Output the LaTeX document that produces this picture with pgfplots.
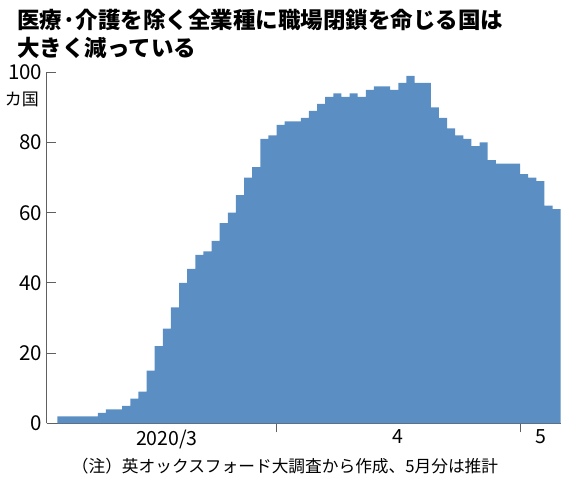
\documentclass[border=0pt]{standalone}
\usepackage{fontspec}
\setmainfont{Noto Sans CJK JP}
\usepackage{pgfplots}
\pgfplotsset{compat=1.18}
\definecolor{barblue}{HTML}{5B8FC4}
\definecolor{axgray}{HTML}{606060}
\begin{document}
\begin{tikzpicture}[x=1pt,y=1pt]
\useasboundingbox (0,0) rectangle (583,480);
\node[anchor=north west, inner sep=0, align=left, font=\fontsize{22.5}{27.5}\selectfont\bfseries] at (17,471) {医療·介護を除く全業種に職場閉鎖を命じる国は\\大きく減っている};
\begin{axis}[
  at={(46.7pt,56.7pt)}, anchor=south west,
  scale only axis, width=514pt, height=351pt,
  xmin=-1.3, xmax=62, ymin=0, ymax=100,
  axis x line*=bottom, axis y line*=left,
  axis line style={axgray, line width=0.9pt},
  tick align=inside,
  major tick length=9pt,
  tick style={axgray, line width=0.9pt},
  ytick={0,20,40,60,80,100},
  xtick={27,57}, xticklabels={},
  x tick style={yshift=-9pt},
  extra x ticks={13.5,42,59.5},
  extra x tick labels={2020/3,4,5},
  extra x tick style={major tick length=0pt},
  /pgf/number format/assume math mode=true,
  yticklabel style={font=\fontsize{20.5}{20.5}\selectfont, xshift=-1pt},
  xticklabel style={font=\fontsize{19.5}{19.5}\selectfont, yshift=-3pt},
]
\addplot[const plot, fill=barblue, draw=none] coordinates {
(0,2)(1,2)(2,2)(3,2)(4,2)(5,3)(6,4)(7,4)(8,5)(9,7)
(10,9)(11,15)(12,22)(13,27)(14,33)(15,40)(16,44)(17,48)(18,49)(19,52)
(20,57)(21,60)(22,65)(23,70)(24,73)(25,81)(26,82)(27,85)(28,86)(29,86)
(30,87)(31,89)(32,91)(33,93)(34,94)(35,93)(36,94)(37,93)(38,95)(39,96)
(40,96)(41,95)(42,97)(43,99)(44,97)(45,97)(46,90)(47,87)(48,84)(49,82)
(50,81)(51,79)(52,80)(53,75)(54,74)(55,74)(56,74)(57,71)(58,70)(59,69)
(60,62)(61,61)(62,61)
} \closedcycle;
\end{axis}
\node[font=\fontsize{17}{17}\selectfont] at (22,381) {カ国};
\node[font=\fontsize{16.7}{16.7}\selectfont] at (285,13.5) {（注）英オックスフォード大調査から作成、5月分は推計};
\end{tikzpicture}
\end{document}
